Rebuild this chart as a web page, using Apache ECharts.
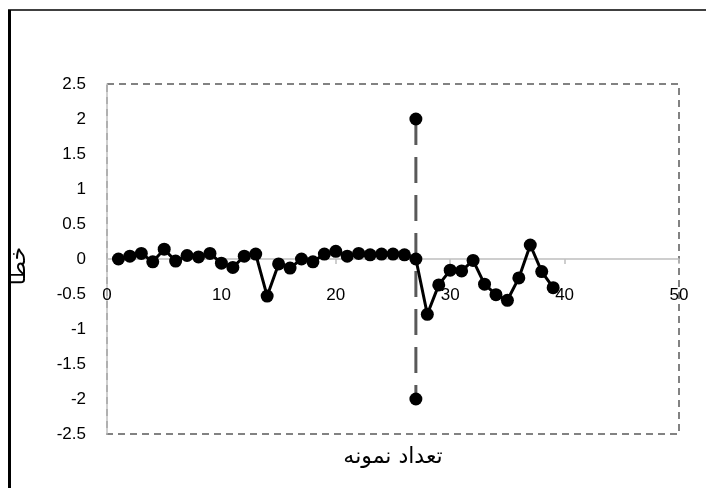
<!DOCTYPE html>
<html>
<head>
<meta charset="utf-8">
<script src="https://cdn.jsdelivr.net/npm/echarts@6/dist/echarts.min.js"></script>
<style>html,body{margin:0;padding:0;background:#fff}#c{width:706px;height:488px}</style>
</head>
<body>
<div id="c"></div>
<script>
// Data
const sampleNumbers = [1,2,3,4,5,6,7,8,9,10,11,12,13,14,15,16,17,18,19,20,21,22,23,24,25,26,27,28,29,30,31,32,33,34,35,36,37,38,39];
const errorValues = [0,0.04,0.08,-0.04,0.14,-0.03,0.05,0.03,0.08,-0.06,-0.12,0.04,0.07,-0.53,-0.07,-0.13,0,-0.04,0.07,0.11,0.04,0.08,0.06,0.07,0.07,0.06,0,-0.79,-0.37,-0.16,-0.17,-0.02,-0.36,-0.51,-0.59,-0.27,0.2,-0.18,-0.41];
const markerLineX = [27, 27];
const markerLineY = [2, -2];
const xTicks = [0, 50, 10];   // min, max, interval
const yTicks = [-2.5, 2.5, 0.5];
const xTitle = 'تعداد نمونه';
const yTitle = 'خطا';

const chart = echarts.init(document.getElementById('c'), null, {renderer: 'canvas'});
const numFont = 'Liberation Sans';
const arFont = 'DejaVu Sans';
const gridTop = 84, gridBottom = 54, H = 488;
const plotH = H - gridTop - gridBottom;
// distance from grid bottom to the y=0 line (computed from axis range)
const zeroOffset = plotH * (0 - yTicks[0]) / (yTicks[1] - yTicks[0]);
chart.setOption({
  animation: false,
  backgroundColor: '#fff',
  grid: {left: 107, right: 27, top: gridTop, bottom: gridBottom, show: true,
         borderColor: '#595959', borderWidth: 1.5, borderType: [7, 5], backgroundColor: 'transparent'},
  xAxis: {
    type: 'value', min: xTicks[0], max: xTicks[1], interval: xTicks[2],
    offset: -zeroOffset,
    axisLine: {show: true, onZero: false, lineStyle: {color: '#bfbfbf', width: 1.5}},
    axisTick: {show: true, length: 5, lineStyle: {color: '#bfbfbf', width: 1.5}},
    splitLine: {show: false},
    axisLabel: {margin: 28, color: '#000', fontFamily: numFont, fontSize: 17}
  },
  yAxis: {
    type: 'value', min: yTicks[0], max: yTicks[1], interval: yTicks[2],
    axisLine: {show: true, lineStyle: {color: '#bfbfbf', width: 1.5}},
    axisTick: {show: false},
    splitLine: {show: false},
    axisLabel: {margin: 21, color: '#000', fontFamily: numFont, fontSize: 17}
  },
  series: [
    {
      type: 'line',
      data: sampleNumbers.map((x, i) => [x, errorValues[i]]),
      symbol: 'circle', symbolSize: 13,
      itemStyle: {color: '#000'},
      lineStyle: {color: '#000', width: 3},
      z: 3
    },
    {
      type: 'line',
      data: markerLineX.map((x, i) => [x, markerLineY[i]]),
      symbol: 'circle', symbolSize: 13,
      itemStyle: {color: '#000'},
      lineStyle: {color: '#595959', width: 3, type: [26, 12]},
      z: 2
    }
  ],
  graphic: [
    {type: 'line', shape: {x1: 9.5, y1: 10, x2: 9.5, y2: 488}, style: {stroke: '#000', lineWidth: 3}},
    {type: 'line', shape: {x1: 8, y1: 10, x2: 706, y2: 10}, style: {stroke: '#000', lineWidth: 1.5}},
    {type: 'text', x: 393, y: 457, style: {text: xTitle, font: '22px "' + arFont + '"', fill: '#000', textAlign: 'center', textVerticalAlign: 'middle'}},
    {type: 'text', x: 19, y: 266, rotation: Math.PI / 2, style: {text: yTitle, font: '22px "' + arFont + '"', fill: '#000', textAlign: 'center', textVerticalAlign: 'middle'}}
  ]
});
</script>
</body>
</html>
